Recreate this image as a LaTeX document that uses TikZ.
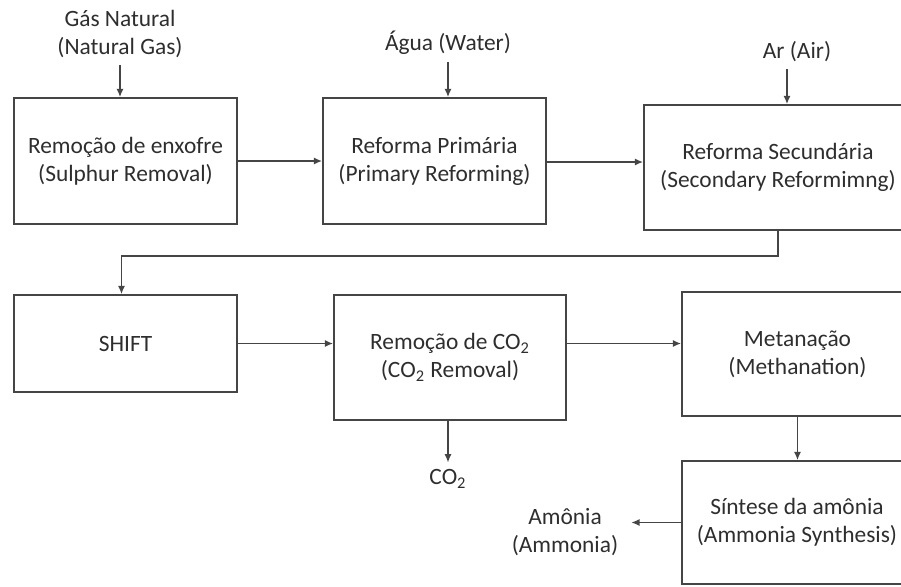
\documentclass[tikz,border=0pt]{standalone}
\usepackage{fontspec}
\setmainfont{Carlito}
\usetikzlibrary{
    arrows.meta,
    positioning
}
\definecolor{inkgray}{HTML}{2E2E2E}
\definecolor{linegray}{HTML}{454545}

\begin{document}
\begin{tikzpicture}[x=0.5pt,y=-0.5pt,
    >={Latex[length=4.2pt,width=3.6pt]},
    every node/.style={font=\fontsize{11.7}{14}\selectfont,text=inkgray,align=center},
    unit/.style={draw=linegray,line width=0.85pt,inner sep=0pt},
    flow/.style={->,draw=linegray,line width=0.8pt}]
    \clip (0,0) rectangle (901,586);

    % process units
    \node[unit,minimum width=111.5pt,minimum height=63pt] (sulf) at (125.5,161) {Remoção de enxofre\\(Sulphur Removal)};
    \node[unit,minimum width=111.5pt,minimum height=63pt] (prim) at (434.5,161) {Reforma Primária\\(Primary Reforming)};
    \node[unit,minimum width=134pt,minimum height=62.5pt] (sec) at (778,167.5) {Reforma Secundária\\(Secondary Reformimng)};
    \node[unit,minimum width=111.5pt,minimum height=48.5pt] (shift) at (125.5,343.5) {SHIFT};
    \node[unit,minimum width=116pt,minimum height=62.5pt] (corem) at (450,357.5) {Remoção de CO\textsubscript{2}\\(CO\textsubscript{2} Removal)};
    \node[unit,minimum width=115.5pt,minimum height=62pt] (meth) at (797.5,354) {Metanação\\(Methanation)};
    \node[unit,minimum width=115pt,minimum height=61.5pt] (synth) at (797,522.5) {Síntese da amônia\\(Ammonia Synthesis)};

    % feeds and products
    \node (gas) at (120,34) {Gás Natural\\(Natural Gas)};
    \node (water) at (448,43) {Água (Water)};
    \node (air) at (797,52) {Ar (Air)};
    \node (co2) at (448,479) {CO\textsubscript{2}};
    \node (nh3) at (565,532) {Amônia\\(Ammonia)};

    \draw[flow] (gas.south) -- (gas.south |- sulf.north);
    \draw[flow] (water.south) -- (water.south |- prim.north);
    \draw[flow] ([xshift=-5pt]air.south) -- ([xshift=-5pt]air.south |- sec.north);

    \draw[flow] (sulf.east) -- (prim.west);
    \draw[flow] ([yshift=-0.5pt]prim.east) -- ([yshift=-0.5pt]prim.east -| sec.west);
    \draw[flow] (sec.south) -- ++(0,25) -| ([xshift=-2pt]shift.north);
    \draw[flow] (shift.east) -- (shift.east -| corem.west);
    \draw[flow] (corem.east |- shift.east) -- (meth.west |- shift.east);
    \draw[flow] (corem.south -| co2.north) -- (co2.north);
    \draw[flow] (meth.south) -- (meth.south |- synth.north);
    \draw[flow] (synth.west) -- ([xshift=3pt]synth.west -| nh3.east);
\end{tikzpicture}
\end{document}
